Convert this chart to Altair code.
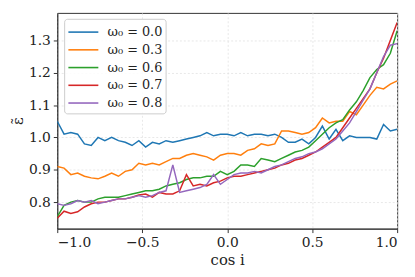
import altair as alt
import pandas as pd

x_vals = [-1.00, -0.96, -0.92, -0.88, -0.84, -0.80, -0.76, -0.72, -0.68, -0.64,
          -0.60, -0.56, -0.52, -0.48, -0.44, -0.40, -0.36, -0.32, -0.28, -0.24,
          -0.20, -0.16, -0.12, -0.08, -0.04, 0.00, 0.04, 0.08, 0.12, 0.16,
          0.20, 0.24, 0.28, 0.32, 0.36, 0.40, 0.44, 0.48, 0.52, 0.56,
          0.60, 0.64, 0.68, 0.72, 0.76, 0.80, 0.84, 0.88, 0.92, 0.96, 1.00]

eps_w00 = [1.05, 1.01, 1.015, 1.01, 0.98, 0.975, 1.0, 0.99, 1.0, 0.99,
           0.985, 0.975, 0.99, 0.97, 0.985, 0.98, 0.99, 0.985, 0.99, 0.995,
           1.0, 1.005, 1.015, 1.005, 1.01, 1.01, 1.005, 1.015, 1.005, 1.01,
           1.01, 1.005, 1.01, 1.0, 0.985, 0.985, 0.995, 0.98, 1.0, 1.035,
           0.995, 1.025, 0.99, 1.005, 1.0, 1.0, 1.0, 0.995, 1.04, 1.02, 1.025]

eps_w03 = [0.91, 0.905, 0.885, 0.89, 0.88, 0.875, 0.872, 0.88, 0.89, 0.88,
           0.895, 0.90, 0.92, 0.915, 0.92, 0.915, 0.925, 0.935, 0.935, 0.945,
           0.95, 0.945, 0.94, 0.93, 0.945, 0.95, 0.95, 0.945, 0.96, 0.965,
           0.98, 0.975, 0.98, 1.02, 1.02, 1.015, 1.01, 1.015, 1.03, 1.06,
           1.045, 1.05, 1.05, 1.08, 1.07, 1.10, 1.13, 1.155, 1.15, 1.165, 1.175]

eps_w06 = [0.755, 0.79, 0.80, 0.805, 0.80, 0.80, 0.81, 0.815, 0.815, 0.815,
           0.82, 0.825, 0.83, 0.835, 0.835, 0.84, 0.85, 0.855, 0.86, 0.87,
           0.875, 0.875, 0.88, 0.88, 0.895, 0.885, 0.895, 0.915, 0.915, 0.91,
           0.935, 0.93, 0.925, 0.935, 0.945, 0.955, 0.96, 0.97, 0.99, 1.01,
           1.03, 1.045, 1.055, 1.085, 1.11, 1.145, 1.185, 1.21, 1.225, 1.26, 1.33]

eps_w07 = [0.75, 0.772, 0.765, 0.77, 0.785, 0.795, 0.80, 0.80, 0.805, 0.81,
           0.81, 0.815, 0.822, 0.825, 0.815, 0.83, 0.825, 0.825, 0.835, 0.885,
           0.85, 0.855, 0.85, 0.86, 0.865, 0.875, 0.88, 0.88, 0.885, 0.89,
           0.895, 0.90, 0.905, 0.915, 0.92, 0.93, 0.935, 0.945, 0.955, 0.97,
           0.985, 1.0, 1.03, 1.06, 1.09, 1.12, 1.15, 1.20, 1.245, 1.30, 1.355]

eps_w08 = [0.795, 0.79, 0.795, 0.805, 0.80, 0.805, 0.795, 0.80, 0.805, 0.81,
           0.81, 0.815, 0.82, 0.815, 0.82, 0.83, 0.835, 0.915, 0.83, 0.835,
           0.84, 0.845, 0.855, 0.885, 0.855, 0.87, 0.885, 0.89, 0.89, 0.895,
           0.89, 0.90, 0.91, 0.915, 0.925, 0.935, 0.94, 0.95, 0.955, 0.965,
           0.98, 0.995, 1.02, 1.045, 1.08, 1.115, 1.15, 1.20, 1.25, 1.285, 1.29]

series_labels = ["ω₀ = 0.0", "ω₀ = 0.3", "ω₀ = 0.6", "ω₀ = 0.7", "ω₀ = 0.8"]
series_colors = ["#1f77b4", "#ff7f0e", "#2ca02c", "#d62728", "#9467bd"]
x_ticks = [-1.0, -0.5, 0.0, 0.5, 1.0]
y_ticks = [0.8, 0.9, 1.0, 1.1, 1.2, 1.3]

all_series = [eps_w00, eps_w03, eps_w06, eps_w07, eps_w08]
rows = []
for k, (lab, ys) in enumerate(zip(series_labels, all_series)):
    for xv, yv in zip(x_vals, ys):
        rows.append({"x": xv, "y": yv, "series": lab, "k": k})
df = pd.DataFrame(rows)

font = "DejaVu Serif"

chart = alt.Chart(df).mark_line(strokeWidth=1.5, clip=True).encode(
    x=alt.X("x:Q",
            scale=alt.Scale(domain=[-1, 1], nice=False, zero=False),
            axis=alt.Axis(values=x_ticks, format=".1f", title="cos i",
                          titlePadding=3)),
    y=alt.Y("y:Q",
            scale=alt.Scale(domain=[0.718, 1.385], nice=False, zero=False),
            axis=alt.Axis(values=y_ticks, format=".1f", title="ε̃",
                          titlePadding=3)),
    color=alt.Color("series:N",
                    scale=alt.Scale(domain=series_labels, range=series_colors),
                    legend=alt.Legend(
                        title=None, orient="none", legendX=7, legendY=6,
                        symbolType="M-1.6,0L1.6,0", symbolSize=361,
                        symbolStrokeWidth=1.6, symbolOffset=6,
                        labelFont=font,
                        labelFontSize=13, labelColor="#222",
                        labelOffset=14, rowPadding=0, padding=3,
                        strokeColor="#cccccc", fillColor="rgba(255,255,255,0.85)",
                        cornerRadius=3)),
    detail="k:O",
).properties(
    width=345, height=219,
    autosize=alt.AutoSizeParams(type="none"),
    padding={"left": 50, "top": 3, "right": 10, "bottom": 39},
).configure_view(
    stroke="#333333", strokeWidth=1
).configure_axis(
    domainColor="#333333", tickColor="#333333", tickSize=4,
    labelFont=font, labelFontSize=14, labelColor="#222",
    titleFont=font, titleFontSize=15, titleColor="#222", titleFontWeight="normal",
    gridColor="#e2e2e2", gridDash=[2, 2], gridWidth=0.8, labelPadding=3,
)

chart.save("out.html", embed_options={"renderer": "svg", "actions": False})
